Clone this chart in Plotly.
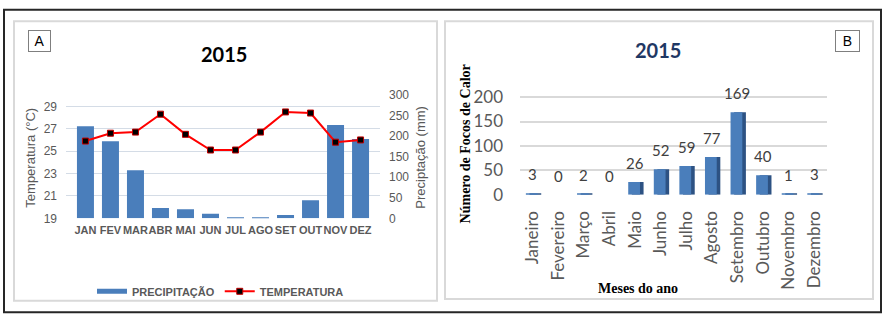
import plotly.graph_objects as go

W, H = 884, 325
def px(x): return x / W
def py(y): return 1 - y / H

# ---- Panel A data ----
meses_a = ["JAN", "FEV", "MAR", "ABR", "MAI", "JUN", "JUL", "AGO", "SET", "OUT", "NOV", "DEZ"]
precipitacao = [224, 188, 117, 25, 22, 11, 2, 2, 8, 44, 227, 193]
temperatura = [25.9, 26.6, 26.7, 28.3, 26.5, 25.1, 25.1, 26.7, 28.5, 28.4, 25.8, 26.0]
temp_ticks = [19, 21, 23, 25, 27, 29]
prec_ticks = [0, 50, 100, 150, 200, 250, 300]

# ---- Panel B data ----
meses_b = ["Janeiro", "Fevereiro", "Março", "Abril", "Maio", "Junho", "Julho",
           "Agosto", "Setembro", "Outubro", "Novembro", "Dezembro"]
focos = [3, 0, 2, 0, 26, 52, 59, 77, 169, 40, 1, 3]
focos_ticks = [0, 50, 100, 150, 200]

ARIAL = "Liberation Sans, Arial, sans-serif"
CAL = "Lato, Carlito, Calibri, sans-serif"
SERIF = "Liberation Serif, Times New Roman, serif"
GREY = "#595959"

fig = go.Figure()

# Panel A bars (precipitation, right axis, primary y)
fig.add_trace(go.Bar(
    x=meses_a, y=precipitacao, xaxis="x", yaxis="y",
    marker=dict(color="#4A7EBB", line=dict(width=0)),
    width=0.68, showlegend=False, name="PRECIPITAÇÃO"))
# legend proxy for bars
fig.add_trace(go.Scatter(
    x=[None], y=[None], xaxis="x", yaxis="y", mode="lines",
    line=dict(color="#4A7EBB", width=5), name="PRECIPITAÇÃO", showlegend=True))
# Temperature line (left axis, overlay)
fig.add_trace(go.Scatter(
    x=meses_a, y=temperatura, xaxis="x", yaxis="y2", mode="lines+markers",
    line=dict(color="#FF0000", width=2),
    marker=dict(symbol="square", size=6, color="#000000", line=dict(color="#C00000", width=1)),
    name="TEMPERATURA", showlegend=True))

# Panel B bars: side face (darker) + front face
fig.add_trace(go.Bar(
    x=meses_b, y=focos, xaxis="x2", yaxis="y3",
    marker=dict(color="#2D5283", line=dict(width=0)),
    width=0.46, offset=-0.13, showlegend=False, hoverinfo="skip"))
fig.add_trace(go.Bar(
    x=meses_b, y=focos, xaxis="x2", yaxis="y3",
    marker=dict(color="#4A7EBB", line=dict(width=0)),
    width=0.46, offset=-0.27, showlegend=False))

annotations = []
for m, v in zip(meses_b, focos):
    annotations.append(dict(
        x=m, y=v, xref="x2", yref="y3", text=str(v), showarrow=False,
        xanchor="center", yanchor="bottom", yshift=8,
        font=dict(family=CAL, size=15, color="#404040")))

def lab(x, y, text, font, **kw):
    d = dict(x=px(x), y=py(y), xref="paper", yref="paper", text=text, showarrow=False,
             xanchor="center", yanchor="middle", font=font)
    d.update(kw)
    return d

annotations += [
    lab(224, 50, "<b>2015</b>", dict(family=CAL, size=20, color="#000000")),
    lab(658, 45, "<b>2015</b>", dict(family=CAL, size=20, color="#1F3864")),
    lab(39.5, 36, "A", dict(family=ARIAL, size=14, color="#000000"), width=19, height=18,
        bordercolor="#7F7F7F", borderwidth=1, borderpad=1, bgcolor="white"),
    lab(847.5, 36, "B", dict(family=ARIAL, size=14, color="#000000"), width=21, height=18,
        bordercolor="#7F7F7F", borderwidth=1, borderpad=1, bgcolor="white"),
    lab(31, 159, "Temperatura (°C)", dict(family=ARIAL, size=13, color=GREY), textangle=-90),
    lab(421, 159, "Preciptação (mm)", dict(family=ARIAL, size=13, color=GREY), textangle=-90),
    lab(465, 145, "<b>Número de Focos de Calor</b>", dict(family=SERIF, size=14, color="#000000"),
        textangle=-90),
    lab(638, 297, "<b>Meses do ano</b>", dict(family=SERIF, size=14, color="#000000")),
]

shapes = [
    dict(type="rect", xref="paper", yref="paper", x0=px(4), x1=px(881), y0=py(322), y1=py(3),
         line=dict(color="#262626", width=2)),
    dict(type="rect", xref="paper", yref="paper", x0=px(14), x1=px(437), y0=py(310), y1=py(15),
         line=dict(color="#D9D9D9", width=2)),
    dict(type="rect", xref="paper", yref="paper", x0=px(445), x1=px(873), y0=py(308), y1=py(15),
         line=dict(color="#D9D9D9", width=2)),
]

fig.update_layout(
    width=W, height=H, margin=dict(l=0, r=0, t=0, b=0),
    paper_bgcolor="white", plot_bgcolor="rgba(0,0,0,0)",
    barmode="overlay",
    xaxis=dict(domain=[px(66), px(380)], type="category", showgrid=False, showline=False,
               ticks="", tickangle=0, tickfont=dict(family=ARIAL, size=11, color=GREY, weight="bold"),
               ticklabelstandoff=4, fixedrange=True),
    yaxis=dict(domain=[py(223), py(93)], side="right", range=[0, 300], tickvals=prec_ticks,
               showgrid=False, zeroline=False, showline=False, ticks="",
               tickfont=dict(family=ARIAL, size=12, color=GREY), ticklabelstandoff=8),
    yaxis2=dict(overlaying="y", side="left", range=[19, 30], tickvals=temp_ticks,
                showgrid=True, gridcolor="#D4DCE6", gridwidth=1, zeroline=False, showline=False,
                ticks="", tickfont=dict(family=ARIAL, size=12, color=GREY), ticklabelstandoff=8),
    xaxis2=dict(domain=[px(520), px(827)], anchor="y3", type="category", showgrid=False,
                showline=False, ticks="", tickangle=-90,
                tickfont=dict(family=CAL, size=17, color=GREY), ticklabelstandoff=12),
    yaxis3=dict(domain=[py(198), py(90)], anchor="x2", range=[0, 210], tickvals=focos_ticks,
                showgrid=True, gridcolor="#D9D9D9", gridwidth=2, zeroline=False, showline=False,
                ticks="", tickfont=dict(family=CAL, size=17, color=GREY), ticklabelstandoff=16),
    legend=dict(orientation="h", x=px(92), y=py(300), xanchor="left", yanchor="middle",
                font=dict(family=ARIAL, size=11, color=GREY, weight="bold"),
                bgcolor="rgba(0,0,0,0)", itemwidth=30, tracegroupgap=0),
    annotations=annotations, shapes=shapes,
)

fig.write_html("out.html")
